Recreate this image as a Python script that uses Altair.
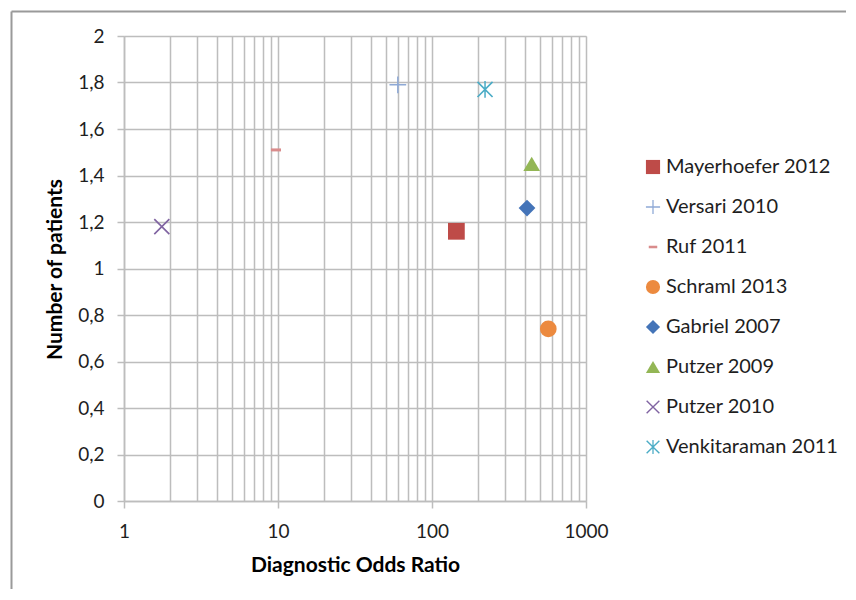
import altair as alt
import pandas as pd

studies = ["Mayerhoefer 2012", "Versari 2010", "Ruf 2011", "Schraml 2013",
           "Gabriel 2007", "Putzer 2009", "Putzer 2010", "Venkitaraman 2011"]
odds_ratio = [144, 60, 9.7, 569, 414, 444, 1.76, 221]
patients = [1.16, 1.79, 1.51, 0.74, 1.26, 1.45, 1.18, 1.77]

colors = ["#BE4B48", "#8EA9D6", "#D98C8C", "#EC8A3F",
          "#4474B8", "#93B655", "#8064A2", "#4BACC6"]

PLUS = "M-1,-0.09H1V0.09H-1Z M-0.09,-1H0.09V1H-0.09Z"
DASH = "M-0.6,-0.18H0.6V0.18H-0.6Z"
XS = ("M-0.83,-0.97L0.97,0.83L0.83,0.97L-0.97,-0.83Z "
      "M-0.97,0.83L0.83,-0.97L0.97,-0.83L-0.83,0.97Z")
STAR = XS + " M-0.09,-1H0.09V1H-0.09Z"
shapes = ["square", PLUS, DASH, "circle", "diamond", "triangle-up", XS, STAR]

x_major = [1, 10, 100, 1000]
x_grid = [m * d for d in [1, 10, 100] for m in range(1, 10)] + [1000]
y_ticks = [0, 0.2, 0.4, 0.6, 0.8, 1.0, 1.2, 1.4, 1.6, 1.8, 2.0]

df = pd.DataFrame({"study": studies, "dor": odds_ratio, "patients": patients})

FONT = "Lato"
GRID = "#BDBDBD"
TXT = "#1E1E1E"

xscale = alt.Scale(type="log", domain=[1, 1000], nice=False)
yscale = alt.Scale(domain=[0, 2], nice=False, zero=True)

legend_kw = dict(title=None, orient="none", legendX=519, legendY=121,
                 labelFont=FONT, labelFontSize=20, labelColor=TXT,
                 labelLimit=0,
                 symbolSize=200, rowPadding=20, labelOffset=3,
                 symbolStrokeWidth=0, padding=0)

points = alt.Chart(df).mark_point(filled=True, size=280, opacity=1).encode(
    x=alt.X("dor:Q", scale=xscale,
            axis=alt.Axis(values=x_major, grid=False, tickSize=7, tickWidth=1.5,
                          tickColor=GRID, domainColor=GRID, domainWidth=1.5,
                          labelFont=FONT, labelFontSize=19, labelColor=TXT,
                          labelPadding=14, format="~d", labelFlush=False,
                          labelOverlap=False,
                          title="Diagnostic Odds Ratio", titleFont=FONT,
                          titleFontSize=21, titleFontWeight="bold", titleColor="#000",
                          titleX=231, titleY=64, titleBaseline="middle",
                          titleAlign="center")),
    y=alt.Y("patients:Q", scale=yscale,
            axis=alt.Axis(values=y_ticks, grid=True, gridColor=GRID, gridWidth=1.5,
                          tickSize=7, tickWidth=1.5, tickColor=GRID,
                          domainColor=GRID, domainWidth=1.5,
                          format=".1~f", labelFlush=False,
                          labelExpr="replace(datum.label, '.', ',')",
                          labelFont=FONT, labelFontSize=19, labelColor=TXT,
                          labelPadding=13,
                          title="Number of patients", titleFont=FONT,
                          titleFontSize=21, titleFontWeight="bold", titleColor="#000",
                          titleX=-69, titleY=233, titleAngle=270,
                          titleBaseline="middle", titleAlign="center")),
    color=alt.Color("study:N", scale=alt.Scale(domain=studies, range=colors),
                    legend=alt.Legend(**legend_kw)),
    shape=alt.Shape("study:N", scale=alt.Scale(domain=studies, range=shapes),
                    legend=alt.Legend(**legend_kw)),
)

gridlayer = alt.Chart(df).mark_point(opacity=0).encode(
    x=alt.X("dor:Q", scale=xscale,
            axis=alt.Axis(values=x_grid, grid=True, gridColor=GRID, gridWidth=1.5,
                          labels=False, ticks=False, domain=False, title=None,
                          orient="top")),
    y=alt.Y("patients:Q", scale=yscale),
)

frame_df = pd.DataFrame({"k": [0]})
frame_left = alt.Chart(frame_df).mark_rule(color="#9A9A9A", strokeWidth=2).encode(
    x=alt.value(-112.5), y=alt.value(-24.5), y2=alt.value(600))
frame_top = alt.Chart(frame_df).mark_rule(color="#9A9A9A", strokeWidth=2).encode(
    x=alt.value(-112.5), x2=alt.value(800), y=alt.value(-24.5))

chart = alt.layer(gridlayer, points, frame_left, frame_top).resolve_axis(
    x="independent"
).properties(
    width=462, height=465,
    autosize=alt.AutoSizeParams(type="none"),
    padding={"left": 116, "top": 28, "right": 260, "bottom": 88},
).configure_view(stroke=None).configure(background="white")

chart.save("out.html", embed_options={"renderer": "svg", "actions": False})
